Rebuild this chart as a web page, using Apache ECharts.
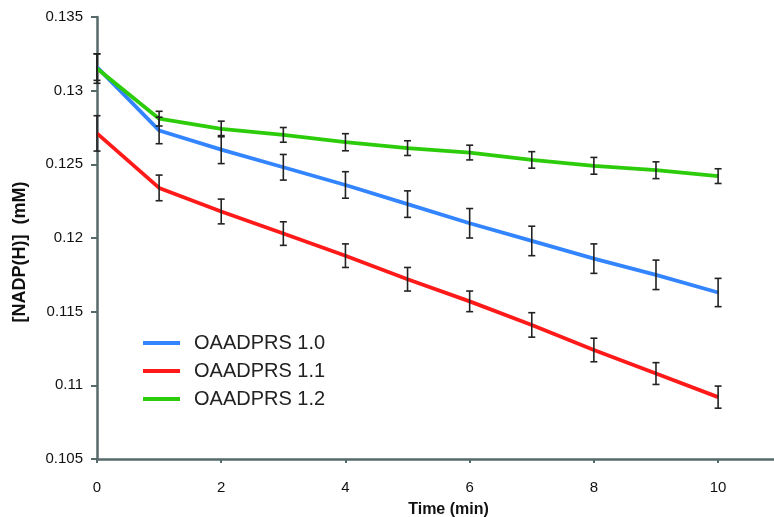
<!DOCTYPE html>
<html>
<head>
<meta charset="utf-8">
<script src="https://cdn.jsdelivr.net/npm/echarts@6/dist/echarts.min.js"></script>
<style>
html,body{margin:0;padding:0;background:#fff;}
#c{width:774px;height:517px;}
</style>
</head>
<body>
<div id="c"></div>
<script>
const times = [0,1,2,3,4,5,6,7,8,9,10];
const seriesNames = ['OAADPRS 1.0','OAADPRS 1.1','OAADPRS 1.2'];
const blue = [0.1316,0.1273,0.1260,0.1248,0.1236,0.1223,0.1210,0.1198,0.1186,0.1175,0.1163];
const blueErr = [0.0009,0.0009,0.00095,0.00087,0.0009,0.0009,0.001,0.001,0.001,0.001,0.00096];
const red = [0.1271,0.1234,0.1218,0.1203,0.1188,0.1172,0.1157,0.1141,0.1124,0.1108,0.1092];
const redErr = [0.0012,0.00087,0.00084,0.0008,0.0008,0.0008,0.0007,0.00083,0.0008,0.00074,0.00075];
const green = [0.1315,0.1281,0.1274,0.1270,0.1265,0.1261,0.1258,0.1253,0.1249,0.1246,0.1242];
const greenErr = [0.001,0.0005,0.00053,0.0005,0.00058,0.0005,0.0005,0.00056,0.00057,0.00057,0.0005];
const xTicks = [0,2,4,6,8,10];
const colors = ['#3385ff','#ff1a1a','#2ccc0a'];

const vals = [blue, red, green];
const errs = [blueErr, redErr, greenErr];

const chart = echarts.init(document.getElementById('c'));
const axisColor = '#56696b';
const font = 'Liberation Sans, Arial, sans-serif';

const lineSeries = vals.map((v,i)=>({
  name: seriesNames[i],
  type:'line',
  data: times.map((t,j)=>[t,v[j]]),
  showSymbol:false,
  symbol:'circle',
  symbolSize:4,
  lineStyle:{color:colors[i],width:3.8},
  itemStyle:{color:colors[i]},
  z:2,
  animation:false
}));

const errSeries = vals.map((v,i)=>({
  type:'custom',
  data: times.map((t,j)=>[t, v[j]-errs[i][j], v[j]+errs[i][j]]),
  renderItem:function(params, api){
    const lo = api.coord([api.value(0), api.value(1)]);
    const hi = api.coord([api.value(0), api.value(2)]);
    const w = 3.5;
    const st = {stroke:'#222', lineWidth:1.6};
    return {type:'group', children:[
      {type:'line', shape:{x1:lo[0],y1:lo[1],x2:hi[0],y2:hi[1]}, style:st},
      {type:'line', shape:{x1:lo[0]-w,y1:lo[1],x2:lo[0]+w,y2:lo[1]}, style:st},
      {type:'line', shape:{x1:hi[0]-w,y1:hi[1],x2:hi[0]+w,y2:hi[1]}, style:st}
    ]};
  },
  z:3,
  silent:true,
  animation:false
}));

chart.setOption({
  backgroundColor:'#fff',
  animation:false,
  grid:{left:97,right:0,top:17,bottom:58,outerBoundsMode:'none',containLabel:false},
  legend:{
    orient:'vertical',
    left:143, top:333, padding:0,
    itemWidth:37, itemHeight:4, itemGap:8,
    icon:'rect',
    data: seriesNames,
    textStyle:{fontFamily:font,fontSize:20,color:'#222',padding:[0,0,0,9]}
  },
  xAxis:{
    type:'value', min:0, max:10.9, interval:2,
    name:'Time (min)', nameLocation:'middle', nameGap:43,
    nameTextStyle:{fontFamily:font,fontSize:16,fontWeight:'bold',color:'#111',padding:[0,0,0,26]},
    axisLine:{onZero:false,lineStyle:{color:axisColor,width:2.5}},
    axisTick:{show:true,length:4,lineStyle:{color:axisColor,width:2},customValues:xTicks},
    axisLabel:{fontFamily:font,fontSize:15,color:'#111',margin:21,customValues:xTicks},
    splitLine:{show:false}
  },
  yAxis:{
    type:'value', min:0.105, max:0.135, interval:0.005,
    name:'[NADP(H)]  (mM)', nameLocation:'middle', nameGap:68,
    nameTextStyle:{fontFamily:font,fontSize:18,fontWeight:'bold',color:'#111',padding:[0,28,0,0]},
    axisLine:{show:true,lineStyle:{color:axisColor,width:2.5}},
    axisTick:{show:true,length:6,lineStyle:{color:axisColor,width:2}},
    axisLabel:{fontFamily:font,fontSize:15,color:'#111',margin:14,
      formatter:function(v){return String(Math.round(v*1000)/1000);}},
    splitLine:{show:false}
  },
  series: lineSeries.concat(errSeries)
});
</script>
</body>
</html>
